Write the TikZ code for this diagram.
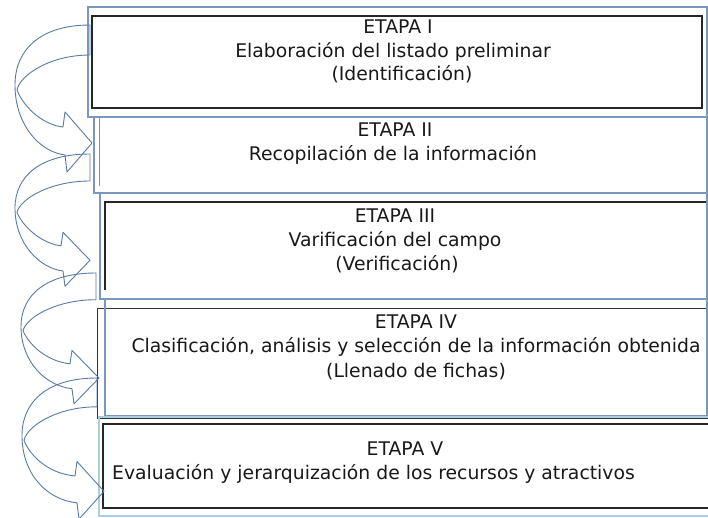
\documentclass[tikz,border=0pt]{standalone}
\usepackage{fontspec}
\setmainfont{DejaVu Sans}
\definecolor{outerblue}{RGB}{122,152,190}
\definecolor{lightouter}{RGB}{168,208,224}
\definecolor{arrowblue}{RGB}{88,124,168}
\definecolor{txt}{RGB}{25,25,25}
\newcommand{\stagearrow}[4]{%
  \begin{scope}[shift={(#1,#2)},yscale=#3]
    \draw[curvearrow] (0,0) .. controls (-50,0) and (-75,25) .. (-75,60)
      .. controls (-75,100) and (-50,127) .. ({-25+(#4)},130)
      -- ({-23+(#4)},147) -- ({2+(#4)},118) -- ({-25+(#4)},87) -- ({-27+(#4)},102)
      .. controls (-45,100) and (-65,85) .. (-73,65)
      .. controls (-70,50) and (-40,30) .. (0,30) -- cycle;
  \end{scope}}
\begin{document}
\begin{tikzpicture}[x=1pt,y=-1pt,
  outerbox/.style={draw=outerblue,line width=1.1pt},
  innerbox/.style={draw=black!85,line width=1.1pt},
  curvearrow/.style={draw=arrowblue,line width=0.9pt,line join=round},
  lbl/.style={anchor=base,inner sep=0pt,text=txt,font=\fontsize{18.8}{22}\selectfont}]
\useasboundingbox[fill=white] (0,0) rectangle (708,517);
% box 1
\draw[innerbox] (92,16) rectangle (702,108);
\draw[outerbox] (88,7) rectangle (707,117);
% box 2
\draw[outerbox] (94,117) rectangle (707,193);
\draw[draw=black!45,line width=1pt] (99,117) -- (99,186);
% box 3
\draw[innerbox] (712,202) -- (105,202) -- (105,290);
\draw[outerbox] (100,193) rectangle (707,299);
% box 4
\draw[draw=black!80,line width=1pt] (97,308) rectangle (712,418);
\draw[outerbox] (105,299) rectangle (707,416);
% box 5
\draw[innerbox] (103,424) rectangle (712,508);
\draw[draw=lightouter,line width=1.1pt] (99,417) rectangle (712,516);
% arrows
\stagearrow{90}{25}{1}{0}
\stagearrow{90}{154}{0.9}{-2}
\stagearrow{96}{273}{0.89}{1}
\stagearrow{97}{378}{0.96}{5}
% texts
\node[lbl] (e1t) at (398,33) {ETAPA I};
\node[lbl] (e1a) at (393,57) {Elaboración del listado preliminar};
\node[lbl] (e1b) at (402,80) {(Identificación)};
\node[lbl] (e2t) at (395,136) {ETAPA II};
\node[lbl] (e2a) at (393,160) {Recopilación de la información};
\node[lbl] (e3t) at (395,222) {ETAPA III};
\node[lbl] (e3a) at (395,246) {Varificación del campo};
\node[lbl] (e3b) at (397,270) {(Verificación)};
\node[lbl] (e4t) at (416,328) {ETAPA IV};
\node[lbl] (e4a) at (416,352) {Clasificación, análisis y selección de la información obtenida};
\node[lbl] (e4b) at (416,377) {(Llenado de fichas)};
\node[lbl] (e5t) at (405,455) {ETAPA V};
\node[lbl,anchor=base west] (e5a) at (112,479) {Evaluación y jerarquización de los recursos y atractivos};
\end{tikzpicture}
\end{document}
